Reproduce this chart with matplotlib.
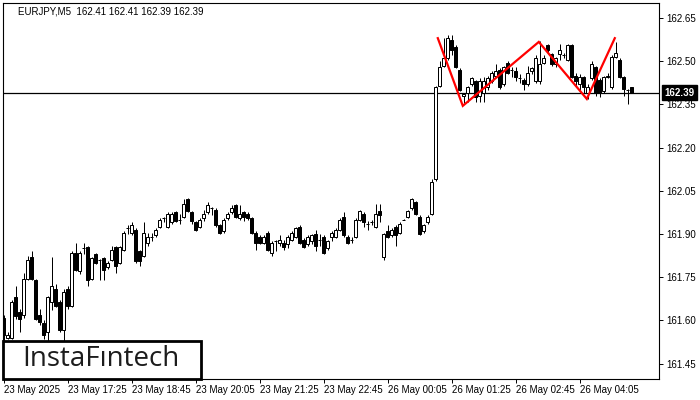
import matplotlib
matplotlib.use("Agg")
import matplotlib.pyplot as plt
from matplotlib.patches import Rectangle
import numpy as np

opens = [161.61, 161.54, 161.54, 161.68, 161.63, 161.62, 161.745, 161.82, 161.74, 161.62,
         161.59, 161.56, 161.665, 161.71, 161.665, 161.565, 161.71, 161.65, 161.835, 161.77,
         161.85, 161.855, 161.745, 161.83, 161.81, 161.815, 161.785, 161.81, 161.855, 161.80,
         161.845, 161.92, 161.905, 161.915, 161.84, 161.825, 161.87, 161.89, 161.895, 161.925,
         161.955, 161.925, 161.94, 161.975, 161.95, 161.96, 162.02, 161.975, 161.94, 161.925,
         161.955, 161.975, 161.99, 161.985, 161.93, 161.91, 161.955, 161.975, 162.00, 161.955,
         161.975, 161.97, 161.955, 161.905, 161.89, 161.87, 161.905, 161.835, 161.875, 161.87,
         161.87, 161.865, 161.88, 161.89, 161.925, 161.88, 161.865, 161.875, 161.90, 161.88,
         161.89, 161.85, 161.89, 161.89, 161.915, 161.96, 161.89, 161.88, 161.89, 161.95,
         161.97, 161.935, 161.94, 161.925, 161.98, 161.82, 161.91, 161.895, 161.925, 161.905,
         161.95, 161.96, 161.99, 162.01, 161.96, 161.91, 161.94, 161.97, 162.09, 162.415,
         162.485, 162.51, 162.575, 162.55, 162.47, 162.38, 162.39, 162.42, 162.43, 162.38,
         162.39, 162.41, 162.43, 162.45, 162.47, 162.42, 162.495, 162.47, 162.465, 162.44,
         162.435, 162.42, 162.465, 162.43, 162.43, 162.495, 162.555, 162.525, 162.49, 162.525,
         162.52, 162.505, 162.555, 162.45, 162.42, 162.445, 162.39, 162.44, 162.48, 162.435,
         162.395, 162.445, 162.41, 162.515, 162.505, 162.445, 162.40, 162.41]
highs = [161.62, 161.56, 161.67, 161.72, 161.64, 161.765, 161.825, 161.84, 161.745, 161.64,
         161.60, 161.685, 161.82, 161.725, 161.67, 161.71, 161.72, 161.84, 161.87, 161.84,
         161.87, 161.86, 161.82, 161.835, 161.812, 161.82, 161.805, 161.86, 161.86, 161.86,
         161.91, 161.93, 161.94, 161.92, 161.845, 161.94, 161.905, 161.905, 161.92, 161.955,
         161.96, 161.975, 161.975, 161.98, 161.97, 162.02, 162.025, 161.98, 161.945, 161.955,
         161.985, 162.01, 161.995, 161.99, 161.935, 161.955, 161.975, 162.00, 162.005, 162.00,
         161.98, 161.975, 161.96, 161.91, 161.895, 161.895, 161.91, 161.875, 161.88, 161.895,
         161.88, 161.895, 161.91, 161.925, 161.93, 161.885, 161.895, 161.90, 161.915, 161.90,
         161.895, 161.88, 161.91, 161.92, 161.955, 161.975, 161.895, 161.89, 161.955, 161.985,
         161.975, 161.945, 161.95, 162.005, 162.005, 161.905, 161.93, 161.92, 161.93, 161.94,
         161.952, 161.985, 162.025, 162.015, 161.965, 161.935, 161.965, 162.09, 162.415, 162.50,
         162.58, 162.59, 162.59, 162.555, 162.475, 162.39, 162.415, 162.445, 162.435, 162.44,
         162.445, 162.45, 162.465, 162.49, 162.475, 162.485, 162.50, 162.48, 162.48, 162.455,
         162.44, 162.485, 162.48, 162.52, 162.57, 162.52, 162.56, 162.53, 162.515, 162.56,
         162.53, 162.56, 162.56, 162.46, 162.455, 162.45, 162.42, 162.50, 162.485, 162.44,
         162.45, 162.46, 162.52, 162.565, 162.51, 162.45, 162.405, 162.41]
lows = [161.53, 161.535, 161.535, 161.605, 161.56, 161.61, 161.74, 161.74, 161.60, 161.585,
        161.535, 161.53, 161.635, 161.645, 161.56, 161.52, 161.64, 161.645, 161.77, 161.76,
        161.83, 161.72, 161.74, 161.795, 161.74, 161.74, 161.78, 161.805, 161.765, 161.795,
        161.84, 161.90, 161.895, 161.80, 161.79, 161.82, 161.86, 161.875, 161.89, 161.92,
        161.94, 161.92, 161.935, 161.94, 161.935, 161.955, 161.975, 161.935, 161.91, 161.92,
        161.945, 161.97, 161.965, 161.925, 161.90, 161.905, 161.95, 161.97, 161.955, 161.95,
        161.945, 161.95, 161.90, 161.845, 161.865, 161.865, 161.84, 161.825, 161.84, 161.86,
        161.845, 161.85, 161.875, 161.885, 161.865, 161.85, 161.86, 161.865, 161.84, 161.86,
        161.83, 161.845, 161.875, 161.885, 161.91, 161.89, 161.865, 161.87, 161.885, 161.945,
        161.925, 161.915, 161.93, 161.92, 161.94, 161.81, 161.885, 161.89, 161.86, 161.90,
        161.948, 161.955, 161.985, 161.965, 161.895, 161.905, 161.935, 161.965, 162.085, 162.41,
        162.48, 162.505, 162.52, 162.475, 162.395, 162.355, 162.36, 162.415, 162.36, 162.36,
        162.36, 162.40, 162.425, 162.445, 162.405, 162.415, 162.455, 162.445, 162.43, 162.425,
        162.40, 162.415, 162.455, 162.425, 162.42, 162.49, 162.53, 162.485, 162.48, 162.505,
        162.51, 162.50, 162.44, 162.41, 162.40, 162.39, 162.37, 162.435, 162.38, 162.375,
        162.39, 162.44, 162.405, 162.51, 162.44, 162.38, 162.35, 162.39]
closes = [161.55, 161.55, 161.665, 161.615, 161.605, 161.745, 161.81, 161.745, 161.605, 161.595,
          161.55, 161.68, 161.72, 161.65, 161.565, 161.70, 161.65, 161.835, 161.775, 161.835,
          161.852, 161.74, 161.815, 161.80, 161.81, 161.775, 161.80, 161.845, 161.79, 161.855,
          161.905, 161.92, 161.93, 161.805, 161.805, 161.905, 161.89, 161.89, 161.915, 161.95,
          161.955, 161.97, 161.97, 161.945, 161.95, 162.005, 161.98, 161.945, 161.915, 161.95,
          161.97, 162.00, 161.99, 161.93, 161.905, 161.95, 161.97, 161.99, 161.96, 161.97,
          161.96, 161.955, 161.905, 161.87, 161.87, 161.89, 161.845, 161.87, 161.875, 161.88,
          161.855, 161.89, 161.905, 161.92, 161.87, 161.855, 161.89, 161.895, 161.86, 161.88,
          161.835, 161.875, 161.905, 161.915, 161.95, 161.895, 161.87, 161.88, 161.95, 161.98,
          161.94, 161.935, 161.94, 161.97, 161.965, 161.90, 161.89, 161.915, 161.895, 161.935,
          161.95, 161.98, 162.02, 161.97, 161.90, 161.93, 161.96, 162.08, 162.41, 162.48,
          162.51, 162.58, 162.54, 162.48, 162.40, 162.385, 162.41, 162.44, 162.375, 162.43,
          162.43, 162.44, 162.46, 162.465, 162.41, 162.48, 162.46, 162.47, 162.445, 162.44,
          162.42, 162.46, 162.475, 162.51, 162.49, 162.51, 162.54, 162.49, 162.51, 162.54,
          162.52, 162.555, 162.445, 162.43, 162.445, 162.41, 162.41, 162.49, 162.39, 162.39,
          162.445, 162.45, 162.515, 162.53, 162.445, 162.405, 162.40, 162.39]

xtick_pos = [0, 16, 32, 48, 64, 80, 96, 112, 128, 144]
xtick_labels = ["23 May 2025", "23 May 17:25", "23 May 18:45", "23 May 20:05",
                "23 May 21:25", "23 May 22:45", "26 May 00:05", "26 May 01:25",
                "26 May 02:45", "26 May 04:05"]
ytick_values = [161.45, 161.60, 161.75, 161.90, 162.05, 162.20, 162.35, 162.50, 162.65]

pattern_idx = [108.5, 114.75, 133.75, 145.75, 152.75]
pattern_price = [162.58, 162.345, 162.567, 162.369, 162.58]

current_price = 162.39
title_text = "EURJPY,M5  162.41 162.41 162.39 162.39"

W, H = 700, 400
fig = plt.figure(figsize=(7, 4), dpi=100)
fig.patch.set_facecolor("white")
ax = fig.add_axes([3 / W, 21 / H, 656 / W, 376 / H])
ax.set_facecolor("white")

n = len(opens)
x = np.arange(n)
o = np.array(opens); c = np.array(closes)
h = np.array(highs); l = np.array(lows)

px = 0.72
ax.vlines(x, l, h, color="black", lw=px, zorder=2)
bw = 0.7
for i in range(n):
    bottom = min(o[i], c[i])
    height = abs(c[i] - o[i])
    up = c[i] >= o[i]
    if height < 0.001:
        ax.hlines(o[i], i - bw / 2, i + bw / 2, color="black", lw=px, zorder=3)
        continue
    ax.add_patch(Rectangle((i - bw / 2, bottom), bw, height,
                           facecolor="white" if up else "black",
                           edgecolor="black", lw=px, zorder=3))

ax.plot(pattern_idx, pattern_price, color="#ff0000", lw=1.6, zorder=4,
        solid_joinstyle="miter")
ax.axhline(current_price, color="black", lw=0.9, zorder=1)

ax.set_xlim(-0.2, 163.8)
ax.set_ylim(161.3965, 162.7021)

tick_font = "Liberation Sans"
ax.yaxis.tick_right()
ax.set_yticks(ytick_values)
ax.set_yticklabels([f"{v:.2f}" for v in ytick_values], family=tick_font, fontsize=7)
ax.set_xticks(xtick_pos)
ax.set_xticklabels(xtick_labels, ha="left", family=tick_font, fontsize=7)
ax.tick_params(axis="both", length=3, width=0.7, colors="black",
               direction="out", pad=2)
ax.tick_params(axis="x", pad=1.5)
for s in ax.spines.values():
    s.set_linewidth(0.8)
    s.set_color("black")

ax.annotate(f"{current_price:.2f}", xy=(1.0, current_price),
            xycoords=("axes fraction", "data"), xytext=(4, 0),
            textcoords="offset points", ha="left", va="center",
            fontsize=7, color="white", fontweight="bold", family=tick_font,
            bbox=dict(boxstyle="square,pad=0.25", fc="black", ec="black"),
            annotation_clip=False, zorder=10)

fig.text(18 / W, 1 - 11 / H, title_text, fontsize=7, color="black",
         ha="left", va="center", family=tick_font)

logo = Rectangle((3 / W, 21 / H), 198 / W, 38 / H, transform=fig.transFigure,
                 facecolor="white", edgecolor="black", lw=2.0, zorder=5)
fig.add_artist(logo)
fig.text(101 / W, 1 - 359 / H, "InstaF\u0131ntech", fontsize=20, color="#1c1c1c",
         ha="center", va="center", zorder=6, family="Open Sans")

fig.savefig("out.png", dpi=100, facecolor="white")
